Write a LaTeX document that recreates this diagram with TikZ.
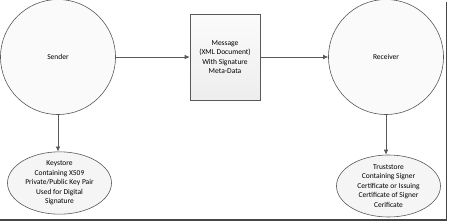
\documentclass[tikz,border=0pt]{standalone}
\usepackage{fontspec}
\setmainfont{Carlito}
\usepackage{tikz}
\usetikzlibrary{arrows.meta,shapes.geometric}

\begin{document}
\begin{tikzpicture}[
    x=1pt, y=-1pt,
    font=\fontsize{7.5}{9.5}\selectfont,
    >={Latex[length=5pt,width=4.5pt]},
    ln/.style={draw=black!65, line width=0.6pt},
    party/.style={ln, circle, fill=gray!4, minimum size=115pt, inner sep=0pt},
    store/.style={ln, ellipse, fill=gray!8, align=center, minimum width=104pt,
                  minimum height=62pt, inner sep=0pt},
    msgbox/.style={ln, rectangle, top color=gray!3, bottom color=gray!14,
                   align=center, minimum width=70pt, minimum height=86pt}
  ]
  \useasboundingbox (0,0) rectangle (450,223);

  % Marco con sombra (derecha y abajo)
  \draw[gray!55!black, line width=1.6pt] (446.5,2) -- (446.5,220) -- (0,220);

  % Sender (arriba a la izquierda)
  \node[party] (sender) at (58,57) {Sender};

  % Message (centro)
  \node[msgbox] (msg) at (225,57) {Message\\(XML Document)\\With Signature\\Meta-Data};

  % Receiver (arriba a la derecha)
  \node[party] (recv) at (386,57) {Receiver};

  % Keystore (abajo a la izquierda)
  \node[store] (keys) at (59.5,183) {Keystore\\Containing X509\\Private/Public Key Pair\\Used for Digital\\Signature};

  % Truststore (abajo a la derecha)
  \node[store] (trust) at (388.5,186) {Truststore\\Containing Signer\\Certificate or Issuing\\Certificate of Signer\\Cerificate};

  % Conexiones
  \draw[->, ln] (sender) -- (msg);
  \draw[->, ln] (msg) -- (recv);
  \draw[->, ln] (sender.south) -- (sender.south |- keys.north);
  \draw[->, ln] (recv.south) -- (recv.south |- trust.north);

\end{tikzpicture}
\end{document}
